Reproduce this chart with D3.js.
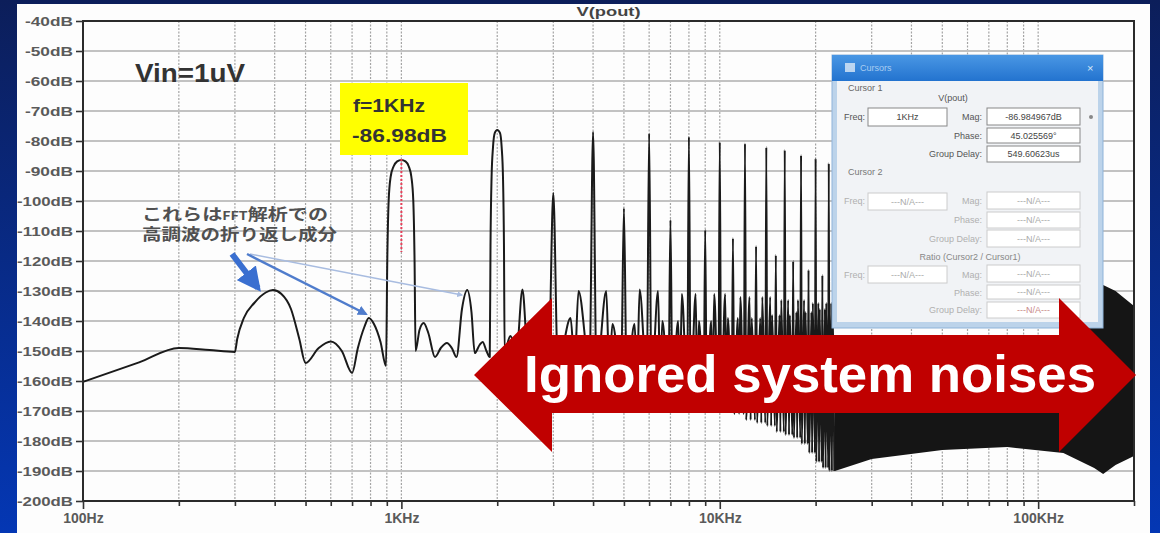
<!DOCTYPE html>
<html><head><meta charset="utf-8">
<script src="https://cdn.jsdelivr.net/npm/d3@7"></script>
<style>
html,body{margin:0;padding:0;background:#0b2a8c;overflow:hidden;}
svg{display:block;}
</style></head>
<body>
<svg id="chart" width="1160" height="533"></svg>
<script>
// ---------------- DATA ----------------
const yTickValues = [-40,-50,-60,-70,-80,-90,-100,-110,-120,-130,-140,-150,-160,-170,-180,-190,-200];
const xLabelFreqs = [100, 1000, 10000, 100000];
const xLabelTexts = ["100Hz", "1KHz", "10KHz", "100KHz"];

// low-frequency part of the trace (Hz, dB), including the 1 kHz and 2 kHz lobes
const lowFreq = [100,150,200,250,300,305,320,345,375,395,420,450,478,500,550,600,650,700,730,765,790,820,860,895,
  903,912,925,945,970,1000,1030,1055,1075,1090,1100,1108,1140,1175,1215,1275,1330,1390,1440,1490,1550,1610,
  1660,1700,1760,1800,1850,1895,1905,1920,1940,1965,2000,2040,2065,2085,2100,2110,2200,2300,2400,2500,2600,2750,2900];
const lowDb = [-160.3,-153.8,-149,-149.7,-150.3,-146,-139,-134,-130.5,-129.7,-131,-136,-146,-154,-149,-146.8,-150,-157.3,-149,-142,-139,-141,-147,-155,
  -120,-100,-92,-88.5,-86.8,-86.3,-86.8,-88.5,-92,-100,-120,-150,-143,-140.7,-144,-152,-149,-147.3,-149,-152,-136,-129.7,
  -137,-150.7,-148,-147,-150,-152,-115,-92,-82,-77.3,-76.3,-77.3,-82,-92,-115,-150,-145,-150,-129.5,-152,-142,-150,-155];

// harmonics 3 kHz .. 22 kHz: peak levels
const harmFreq = [3000,4000,5000,6000,7000,8000,9000,10000,11000,12000,13000,14000,15000,16000,17000,18000,19000,20000,21000,22000];
const harmPeak = [-97.3,-77,-102.4,-77.5,-106.3,-78.6,-109.7,-80.3,-112.4,-80.8,-115,-82,-118,-83,-120,-84.7,-123,-85.8,-124.7,-87.4];
// gap after each harmonic: two sidelobes and the null level
const gapLobeL = [-139,-130,-141,-130,-140,-131,-140,-131,-139,-132,-139,-132,-138,-133,-137,-133,-137,-134,-136,-134];
const gapLobeR = [-130,-141,-129.5,-140,-131,-140,-131,-139,-132,-139,-132,-138,-133,-138,-133,-137,-134,-136,-134,-137];
const gapNull  = [-155,-158,-160,-162,-164,-166,-168,-170,-171,-173,-174,-175,-177,-178,-179,-181,-184,-187,-189,-190];

// dense harmonic band above 23 kHz (envelopes)
const bandFreq   = [23000, 30000, 50000, 80000, 120000, 150000, 160000, 175000, 200000];
const bandTop    = [-146, -146, -146, -146, -146, -135, -128, -130, -135];
const bandBottom = [-190, -186, -183, -182, -184, -189, -191, -188, -185];

// ---------------- LAYOUT ----------------
const W = 1160, H = 533;
const M = {left: 83, right: 1134, top: 21, bottom: 501};
const svg = d3.select("#chart");
const defs = svg.append("defs");
const bg = defs.append("linearGradient").attr("id","bg").attr("x1",0).attr("y1",0).attr("x2",0).attr("y2",1);
bg.append("stop").attr("offset","0%").attr("stop-color","#0c1e5a");
bg.append("stop").attr("offset","100%").attr("stop-color","#0437b4");
const tb = defs.append("linearGradient").attr("id","tb").attr("x1",0).attr("y1",0).attr("x2",0).attr("y2",1);
tb.append("stop").attr("offset","0%").attr("stop-color","#4a97e4");
tb.append("stop").attr("offset","100%").attr("stop-color","#2373cf");

svg.append("rect").attr("width",W).attr("height",H).attr("fill","url(#bg)");
svg.append("rect").attr("x",17).attr("y",4).attr("width",1133).attr("height",529).attr("fill","#fdfdfd");

const x = d3.scaleLog().domain([100, 200000]).range([M.left, M.right]);
const y = d3.scaleLinear().domain([-40, -200]).range([M.top, M.bottom]);

// grid
const gx = x.ticks().filter(f => f > 100 && f < 200000);
svg.append("g").selectAll("line").data(gx).join("line")
  .attr("x1", d => x(d)).attr("x2", d => x(d)).attr("y1", M.top).attr("y2", M.bottom)
  .attr("stroke", "#a4a4a4").attr("stroke-width", 1.2).attr("stroke-dasharray", "2,1.5");
svg.append("g").selectAll("line").data(yTickValues.filter(v => v < -40 && v > -200)).join("line")
  .attr("x1", M.left).attr("x2", M.right).attr("y1", d => y(d)).attr("y2", d => y(d))
  .attr("stroke", "#c2c2c2").attr("stroke-width", 2);

// ---------------- TRACE ----------------
const trace = lowFreq.map((f, i) => [f, lowDb[i]]);
harmFreq.forEach((f, i) => {
  trace.push([f, harmPeak[i]]);
  trace.push([f + 100, gapNull[i]]);
  trace.push([f + 400, gapLobeL[i]]);
  trace.push([f + 500, gapNull[i]]);
  trace.push([f + 600, gapLobeR[i]]);
  trace.push([f + 900, gapNull[i]]);
});
const band = bandFreq.map((f, i) => ({f, t: bandTop[i], b: bandBottom[i]}));

const plot = svg.append("g");
plot.append("path").datum(band)
  .attr("d", d3.area().x(d => x(d.f)).y0(d => y(d.b)).y1(d => y(d.t)))
  .attr("fill", "#151515");
plot.append("path").datum(trace)
  .attr("d", d3.line().x(d => x(d[0])).y(d => y(d[1])).curve(d3.curveMonotoneX))
  .attr("fill", "none").attr("stroke", "#1a1a1a").attr("stroke-width", 2).attr("stroke-linejoin", "round");

// frame and axes
svg.append("rect").attr("x", M.left).attr("y", M.top).attr("width", M.right - M.left).attr("height", M.bottom - M.top)
  .attr("fill", "none").attr("stroke", "#2b2b2b").attr("stroke-width", 2);
const yAxis = d3.axisLeft(y).tickValues(yTickValues).tickSize(7).tickFormat(d => d + "dB");
const gy = svg.append("g").attr("transform", `translate(${M.left},0)`).call(yAxis);
gy.select(".domain").remove();
gy.selectAll(".tick line").attr("stroke", "#333").attr("stroke-width", 1.6);
gy.selectAll(".tick text").attr("x", -10).attr("fill", "#5a5a5a")
  .style("font", "bold 13px 'Liberation Sans', Arial, sans-serif")
  .attr("textLength", d => d <= -100 ? 56 : 48).attr("lengthAdjust", "spacingAndGlyphs");

const xAxis = d3.axisBottom(x).tickValues(x.ticks()).tickSize(5).tickFormat(d => {
  const k = xLabelFreqs.indexOf(d); return k >= 0 ? xLabelTexts[k] : "";
});
const gxa = svg.append("g").attr("transform", `translate(0,${M.bottom})`).call(xAxis);
gxa.select(".domain").remove();
gxa.selectAll(".tick line").attr("stroke", "#333").attr("stroke-width", 1.6)
  .attr("y2", d => xLabelFreqs.includes(d) ? 8 : 5);
gxa.selectAll(".tick text").attr("y", 12).attr("fill", "#5a5a5a")
  .style("font", "bold 14px 'Liberation Sans', Arial, sans-serif");

// title
svg.append("text").attr("x", (M.left + M.right) / 2).attr("y", 16).attr("text-anchor", "middle")
  .attr("fill", "#444").style("font", "bold 13px 'Liberation Sans', Arial, sans-serif")
  .attr("textLength", 64).attr("lengthAdjust", "spacingAndGlyphs").text("V(pout)");

// ---------------- ANNOTATIONS ----------------
svg.append("text").attr("x", 135).attr("y", 82).attr("fill", "#333")
  .style("font", "bold 26px 'Liberation Sans', Arial, sans-serif")
  .attr("textLength", 110).attr("lengthAdjust", "spacingAndGlyphs").text("Vin=1uV");

// yellow label
svg.append("rect").attr("x", 340).attr("y", 83).attr("width", 128).attr("height", 72).attr("fill", "#ffff00");
svg.append("text").attr("x", 353).attr("y", 112).attr("fill", "#333")
  .style("font", "bold 19px 'Liberation Sans', Arial, sans-serif")
  .attr("textLength", 72).attr("lengthAdjust", "spacingAndGlyphs").text("f=1KHz");
svg.append("text").attr("x", 352).attr("y", 142).attr("fill", "#333")
  .style("font", "bold 19px 'Liberation Sans', Arial, sans-serif")
  .attr("textLength", 95).attr("lengthAdjust", "spacingAndGlyphs").text("-86.98dB");
svg.append("line").attr("x1", x(1000)).attr("x2", x(1000)).attr("y1", y(-86)).attr("y2", y(-117))
  .attr("stroke", "#e8405a").attr("stroke-width", 2).attr("stroke-dasharray", "2,2");

// Japanese note
const jp = svg.append("g").attr("fill", "#505050").style("font-family", "'Noto Sans CJK JP', sans-serif").style("font-weight", "bold");
const t1 = jp.append("text").attr("x", 142).attr("y", 220).style("font-size", "15.5px")
  .attr("textLength", 186).attr("lengthAdjust", "spacingAndGlyphs");
t1.append("tspan").text("これらは");
t1.append("tspan").style("font-size", "11px").text("FFT");
t1.append("tspan").text("解析での");
jp.append("text").attr("x", 142).attr("y", 240).style("font-size", "15.5px")
  .attr("textLength", 195).attr("lengthAdjust", "spacingAndGlyphs").text("高調波の折り返し成分");

// blue arrows
function arrowHead(id, color) {
  defs.append("marker").attr("id", id).attr("viewBox", "0 0 10 10").attr("refX", 8).attr("refY", 5)
    .attr("markerWidth", 4).attr("markerHeight", 4).attr("orient", "auto")
    .append("path").attr("d", "M0,0 L10,5 L0,10 z").attr("fill", color);
}
arrowHead("ah1", "#3a6fd0");
arrowHead("ah2", "#4f7ccc");
arrowHead("ah3", "#a8bce0");
svg.append("line").attr("x1", 250).attr("y1", 254).attr("x2", 462).attr("y2", 295)
  .attr("stroke", "#a8bce0").attr("stroke-width", 1.5).attr("marker-end", "url(#ah3)");
svg.append("line").attr("x1", 247).attr("y1", 254).attr("x2", 366).attr("y2", 314)
  .attr("stroke", "#4f7ccc").attr("stroke-width", 2.5).attr("marker-end", "url(#ah2)");
svg.append("line").attr("x1", 232).attr("y1", 254).attr("x2", 258).attr("y2", 288)
  .attr("stroke", "#3a6fd0").attr("stroke-width", 6).attr("marker-end", "url(#ah1)");

// ---------------- CURSOR DIALOG ----------------
const dlg = svg.append("g").style("font-family", "'Liberation Sans', Arial, sans-serif").style("font-size", "9px");
dlg.append("rect").attr("x", 832).attr("y", 55).attr("width", 271).attr("height", 273)
  .attr("fill", "#bcd3ea").attr("stroke", "#8fb3d9").attr("stroke-width", 1);
dlg.append("rect").attr("x", 832).attr("y", 55).attr("width", 271).attr("height", 26).attr("fill", "url(#tb)");
dlg.append("rect").attr("x", 845).attr("y", 63).attr("width", 10).attr("height", 9).attr("fill", "#dce8f6").attr("opacity", 0.8);
dlg.append("text").attr("x", 860).attr("y", 71).attr("fill", "#a9cdf1").text("Cursors");
dlg.append("text").attr("x", 1087).attr("y", 72).attr("fill", "#d7e8f8").style("font-size", "11px").text("×");
dlg.append("rect").attr("x", 837).attr("y", 81).attr("width", 261).attr("height", 241).attr("fill", "#f1f3f6");

function label(xr, yy, txt, col, anchor) {
  dlg.append("text").attr("x", xr).attr("y", yy).attr("text-anchor", anchor || "end").attr("fill", col).text(txt);
}
function box(bx, by, bw, bh, txt, col, stroke) {
  dlg.append("rect").attr("x", bx).attr("y", by).attr("width", bw).attr("height", bh)
    .attr("fill", "#ffffff").attr("stroke", stroke).attr("stroke-width", 1);
  dlg.append("text").attr("x", bx + bw / 2).attr("y", by + bh / 2 + 3).attr("text-anchor", "middle").attr("fill", col).text(txt);
}
label(848, 91, "Cursor 1", "#666", "start");
label(953, 101, "V(pout)", "#555", "middle");
label(865, 120, "Freq:", "#555"); box(868, 108, 79, 18, "1KHz", "#444", "#888");
label(982, 120, "Mag:", "#555"); box(987, 108, 93, 17, "-86.984967dB", "#444", "#888");
dlg.append("circle").attr("cx", 1091).attr("cy", 117).attr("r", 2).attr("fill", "#888");
label(982, 139, "Phase:", "#555"); box(987, 128, 93, 15, "45.025569°", "#444", "#888");
label(982, 157, "Group Delay:", "#555"); box(987, 146, 93, 16, "549.60623us", "#444", "#888");
label(848, 175, "Cursor 2", "#777", "start");
const na = "---N/A---";
label(865, 204, "Freq:", "#b0b0b0"); box(868, 193, 79, 17, na, "#aaa", "#ccc");
label(982, 204, "Mag:", "#b0b0b0"); box(987, 192, 93, 17, na, "#aaa", "#ccc");
label(982, 223, "Phase:", "#b0b0b0"); box(987, 212, 93, 16, na, "#aaa", "#ccc");
label(982, 242, "Group Delay:", "#b0b0b0"); box(987, 230, 93, 17, na, "#aaa", "#ccc");
label(970, 260, "Ratio (Cursor2 / Cursor1)", "#888", "middle");
label(865, 278, "Freq:", "#b0b0b0"); box(868, 266, 79, 17, na, "#aaa", "#ccc");
label(982, 278, "Mag:", "#b0b0b0"); box(987, 265, 93, 17, na, "#aaa", "#ccc");
label(982, 296, "Phase:", "#b0b0b0"); box(987, 285, 93, 14, na, "#aaa", "#ccc");
label(982, 313, "Group Delay:", "#b0b0b0"); box(987, 302, 93, 16, na, "#c98a8a", "#ccc");

// ---------------- RED DOUBLE ARROW ----------------
const arrowPts = [[474,375],[552,298],[552,335],[1059,335],[1059,298],[1136,375],[1059,452],[1059,413],[552,413],[552,452]];
svg.append("polygon").attr("points", arrowPts.map(p => p.join(",")).join(" ")).attr("fill", "#c00000");
svg.append("text").attr("x", 810).attr("y", 392).attr("text-anchor", "middle").attr("fill", "#ffffff")
  .style("font", "bold 52px 'Liberation Sans', Arial, sans-serif")
  .attr("textLength", 572).attr("lengthAdjust", "spacingAndGlyphs").text("Ignored system noises");
</script>
</body></html>
